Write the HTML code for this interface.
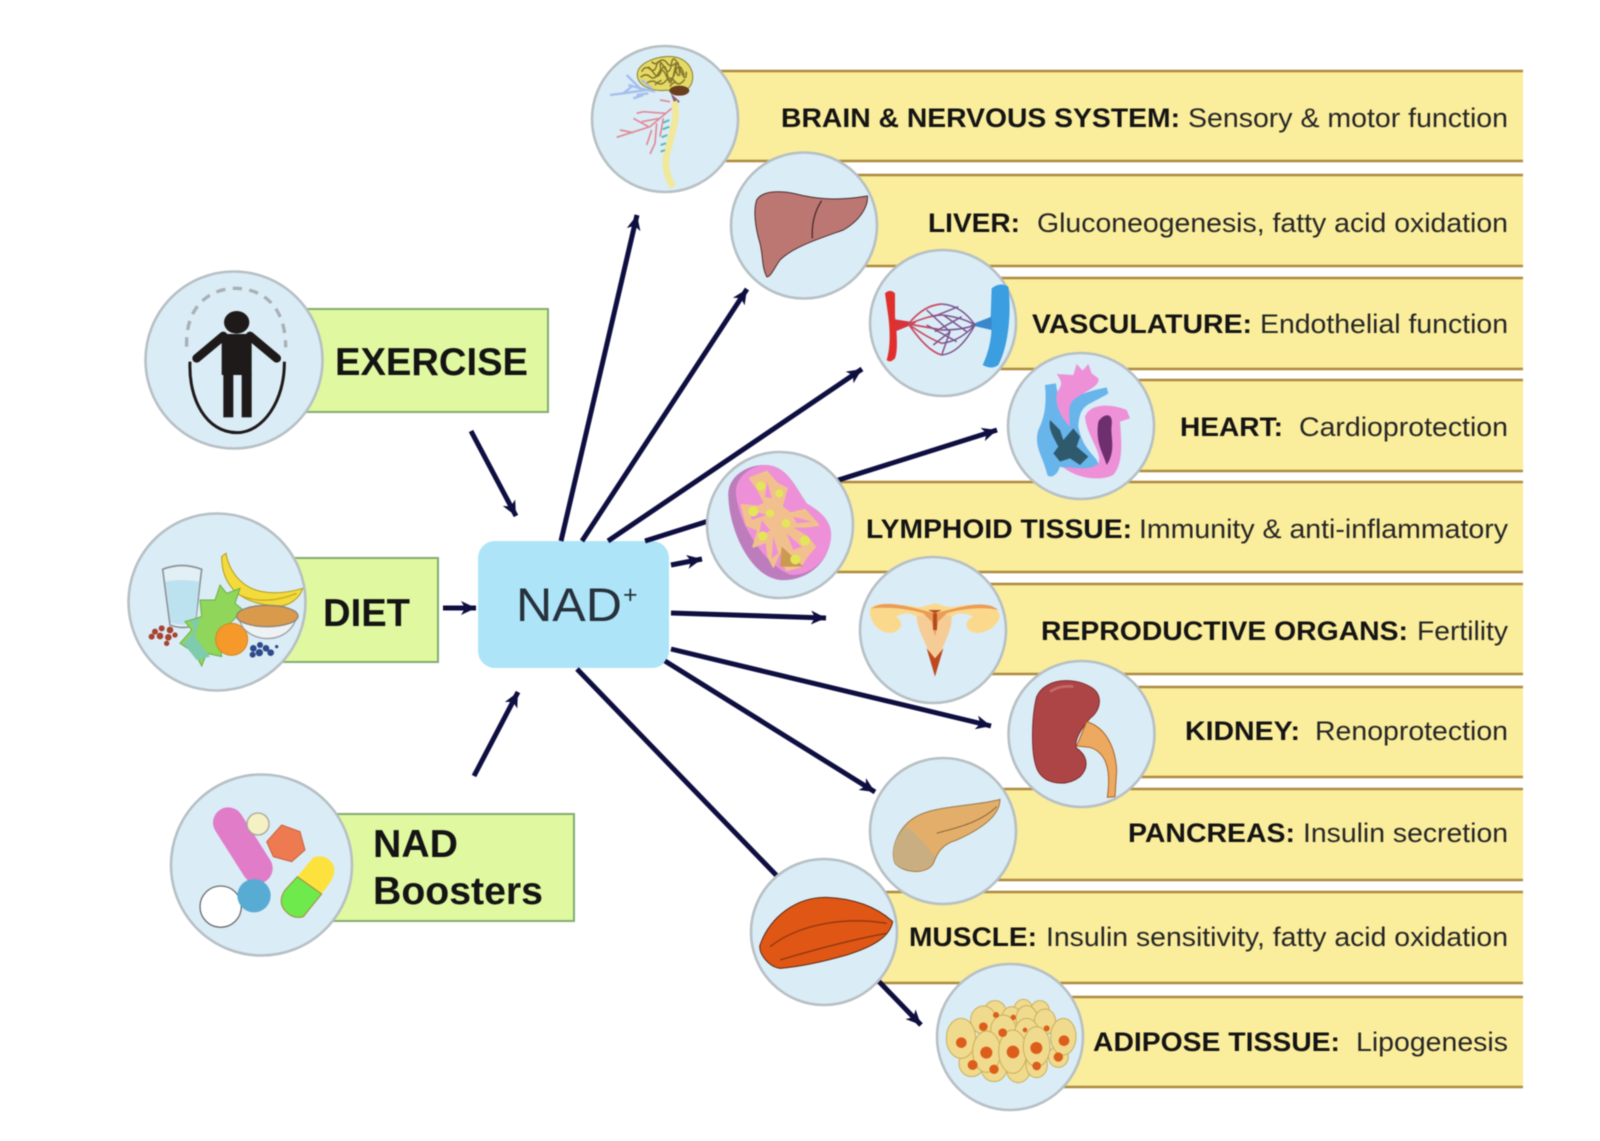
<!DOCTYPE html>
<html><head><meta charset="utf-8"><style>
html,body{margin:0;padding:0;background:#fff;width:1600px;height:1141px;overflow:hidden}
svg{display:block;filter:blur(.6px)}
text{font-family:"Liberation Sans",Arial,sans-serif;fill:#141414}
.b{font-weight:700;font-size:27px}.r{font-size:27px;fill:#262626}
.l{font-weight:700;font-size:39px}
.bar{fill:#faed9b}.bl{stroke:#ae8a3f;stroke-width:2.4}
.c{fill:#daecf6;stroke:#b7c0c4;stroke-width:2.6}
.g{fill:#e0f8a0;stroke:#82ad70;stroke-width:2}
.a{stroke:#0e0f40;stroke-width:5;fill:none}
.h{fill:#0e0f40}
</style></head><body>
<svg width="1600" height="1141" viewBox="0 0 1600 1141" xmlns="http://www.w3.org/2000/svg">
<rect width="1600" height="1141" fill="#fff"/>
<defs><marker id="m" markerUnits="userSpaceOnUse" markerWidth="18" markerHeight="16" refX="15" refY="8" orient="auto"><path class="h" d="M0,1 L15,8 L0,15 L4,8Z"/></marker></defs>

<!-- yellow bars -->
<g>
<rect class="bar" x="700" y="71" width="823" height="90"/><path class="bl" d="M700,71H1523M700,161H1523"/>
<rect class="bar" x="830" y="175" width="693" height="91"/><path class="bl" d="M830,175H1523M830,266H1523"/>
<rect class="bar" x="960" y="278" width="563" height="91"/><path class="bl" d="M960,278H1523M960,369H1523"/>
<rect class="bar" x="1100" y="380" width="423" height="91"/><path class="bl" d="M1100,380H1523M1100,471H1523"/>
<rect class="bar" x="800" y="482" width="723" height="90"/><path class="bl" d="M800,482H1523M800,572H1523"/>
<rect class="bar" x="950" y="584" width="573" height="90"/><path class="bl" d="M950,584H1523M950,674H1523"/>
<rect class="bar" x="1100" y="687" width="423" height="90"/><path class="bl" d="M1100,687H1523M1100,777H1523"/>
<rect class="bar" x="960" y="789" width="563" height="91"/><path class="bl" d="M960,789H1523M960,880H1523"/>
<rect class="bar" x="850" y="892" width="673" height="91"/><path class="bl" d="M850,892H1523M850,983H1523"/>
<rect class="bar" x="1040" y="997" width="483" height="90"/><path class="bl" d="M1040,997H1523M1040,1087H1523"/>
</g>

<!-- green boxes and NAD -->
<rect class="g" x="290" y="309" width="258" height="103"/>
<rect class="g" x="270" y="558" width="168" height="104"/>
<rect class="g" x="320" y="814" width="254" height="107"/>
<rect x="478" y="541" width="191" height="127" rx="17" fill="#aee4f8"/>

<!-- arrows -->
<line class="a" x1="471" y1="431" x2="516" y2="516" marker-end="url(#m)"/>
<line class="a" x1="443" y1="608" x2="476" y2="608" marker-end="url(#m)"/>
<line class="a" x1="474" y1="776" x2="518" y2="692" marker-end="url(#m)"/>
<line class="a" x1="561" y1="541" x2="637" y2="215" marker-end="url(#m)"/>
<line class="a" x1="582" y1="541" x2="747" y2="289" marker-end="url(#m)"/>
<line class="a" x1="608" y1="541" x2="862" y2="369" marker-end="url(#m)"/>
<line class="a" x1="645" y1="541" x2="997" y2="430" marker-end="url(#m)"/>
<line class="a" x1="671" y1="565" x2="702" y2="559" marker-end="url(#m)"/>
<line class="a" x1="671" y1="613" x2="826" y2="618" marker-end="url(#m)"/>
<line class="a" x1="671" y1="649" x2="991" y2="726" marker-end="url(#m)"/>
<line class="a" x1="665" y1="661" x2="875" y2="792" marker-end="url(#m)"/>
<line class="a" x1="577" y1="669" x2="921" y2="1025" marker-end="url(#m)"/>

<!-- circles -->
<circle class="c" cx="665" cy="119" r="73"/>
<circle class="c" cx="804" cy="225.5" r="73"/>
<circle class="c" cx="943" cy="323" r="73"/>
<circle class="c" cx="780" cy="525" r="73"/>
<circle class="c" cx="1081" cy="426" r="73"/>
<circle class="c" cx="933" cy="630" r="73"/>
<circle class="c" cx="1081.5" cy="734" r="73"/>
<circle class="c" cx="943" cy="831" r="73"/>
<circle class="c" cx="824" cy="932" r="73"/>
<circle class="c" cx="1010" cy="1037" r="73"/>
<circle class="c" cx="234" cy="360" r="88.5"/>
<circle class="c" cx="217" cy="602" r="88.5"/>
<circle class="c" cx="261.5" cy="865" r="90.5"/>

<!-- exercise + diet icons -->
<g transform="translate(120,260) scale(.33333)">
<path d="M200,260 C195,120 290,85 345,85 C420,85 497,130 497,262" fill="none" stroke="#a8b0b5" stroke-width="10" stroke-dasharray="28 22"/>
<ellipse cx="350" cy="187" rx="38" ry="34" fill="#1f1a1a"/>
<path d="M305,222H395V345H305Z" fill="#1f1a1a"/>
<path d="M310,228L230,295M390,228L470,295" stroke="#1f1a1a" stroke-width="26" stroke-linecap="round"/>
<rect x="310" y="340" width="30" height="132" fill="#1f1a1a"/><rect x="365" y="340" width="30" height="132" fill="#1f1a1a"/>
<path d="M210,305C205,420 260,517 350,518C430,518 495,420 493,305" fill="none" stroke="#1f1a1a" stroke-width="9"/>

<path d="M128,928Q185,905 245,928L225,1095Q190,1110 150,1095Z" fill="#e2f0f6" stroke="#8d9498" stroke-width="5"/>
<path d="M136,965Q185,955 238,965L226,1088Q190,1100 152,1088Z" fill="#bde2ef"/>
<path d="M305,890C305,960 340,1030 470,1038C510,1040 540,1012 548,985C500,1000 420,1010 370,970C345,950 325,920 318,880Z" fill="#f3db3b" stroke="#b29a20" stroke-width="3"/>
<path d="M350,1000C400,1030 470,1025 530,1000" fill="none" stroke="#c7ad22" stroke-width="4"/>
<path d="M300,975L320,1000L360,985L345,1030L370,1050L330,1090L345,1120L300,1150L305,1190L260,1180L245,1218L225,1180L180,1150L215,1110L195,1085L245,1070L240,1020L285,1020Z" fill="#8fd65a" stroke="#6cae4a" stroke-width="3"/>
<path d="M190,1150L225,1110L210,1085L240,1075L225,1130L270,1190L230,1200Z" fill="#7fcbae"/>
<circle cx="335" cy="1138" r="48" fill="#f59a2a" stroke="#d88420" stroke-width="3"/>
<path d="M360,1085C380,1145 490,1160 525,1085Z" fill="#eef2f4" stroke="#9aa2a6" stroke-width="4"/>
<ellipse cx="442" cy="1068" rx="92" ry="32" fill="#d99a4c" stroke="#8d8478" stroke-width="4"/>
<g fill="#2d4a8a"><circle cx="400" cy="1165" r="10"/><circle cx="418" cy="1178" r="11"/><circle cx="438" cy="1165" r="10"/><circle cx="420" cy="1155" r="9"/><circle cx="452" cy="1178" r="10"/><circle cx="398" cy="1184" r="9"/><circle cx="470" cy="1160" r="5"/></g>
<g fill="#a8432f"><circle cx="105" cy="1115" r="9"/><circle cx="125" cy="1105" r="9"/><circle cx="150" cy="1110" r="10"/><circle cx="95" cy="1130" r="9"/><circle cx="120" cy="1128" r="10"/><circle cx="145" cy="1132" r="10"/><circle cx="165" cy="1125" r="8"/><circle cx="140" cy="1150" r="8"/></g>
</g>

<!-- boosters icon -->
<g transform="translate(160,760) scale(.33333)">
<line x1="205" y1="188" x2="292" y2="325" stroke="#e07cc8" stroke-width="92" stroke-linecap="round"/>
<circle cx="294" cy="192" r="33" fill="#f5f1c4" stroke="#a6a89c" stroke-width="4"/>
<path d="M365,195L420,215L435,270L395,305L340,290L320,245Z" fill="#ee7a52" stroke="#c9623e" stroke-width="3"/>
<path d="M412,350L460,292Q505,280 522,320Q530,350 485,400Z" fill="#fde23e"/>
<path d="M412,350L485,402L430,470Q395,480 370,445Q355,420 375,390Z" fill="#6eea4c" stroke="#a58a3a" stroke-width="3"/>
<circle cx="182" cy="440" r="62" fill="#fff" stroke="#6c7072" stroke-width="4"/>
<circle cx="282" cy="407" r="50" fill="#58acd4"/>
</g>

<!-- brain, liver, vasculature -->
<g transform="translate(580,30) scale(.33333)">
<path d="M172,130C175,95 245,72 290,82C340,95 350,150 325,175C300,195 270,175 245,182C205,180 170,165 172,130Z" fill="#e6da66" stroke="#8a7d2c" stroke-width="3"/>
<path d="M185,125q10,-20 25,-8t20,-12t22,6t22,-8t25,12t20,10M182,142q15,-14 28,-2t25,-10t24,8t26,-10t28,8M200,160q15,-12 30,-2t28,-6t26,2t30,-6M215,95q10,12 22,0t24,4t26,0M205,110q10,10 20,24t20,-14t18,18t20,-14t16,14M240,100q5,20 -5,30M290,100q-8,20 5,38M225,165q8,-10 20,-14M270,170q5,-12 20,-14" fill="none" stroke="#84762a" stroke-width="4.5"/>
<ellipse cx="298" cy="182" rx="30" ry="15" fill="#6b3e20"/>
<path d="M272,190L300,215L285,225Z" fill="#8f5f70"/>
<path d="M282,215C300,260 265,340 258,385C255,420 265,450 280,470" fill="none" stroke="#f1e89a" stroke-width="20"/>
<path d="M268,270L250,278M268,290L248,298M262,315L245,322M258,340L242,345M255,360L242,365" stroke="#5cb8b8" stroke-width="6"/>
<path d="M225,185L180,175L140,135M180,175L145,165M200,180L130,190L90,195M130,190L155,170M190,195L160,205M215,175L185,150M205,190L170,195" fill="none" stroke="#a5bfee" stroke-width="7"/>
<path d="M275,235L210,290L110,322M255,250L190,245L170,250M240,265L185,275M230,280L225,340L210,372M160,308L120,300M270,215L240,210M205,290L160,265M250,265L240,320M215,300L200,345" fill="none" stroke="#e08a96" stroke-width="5"/>

<path d="M530,510C545,485 590,480 640,490C700,505 760,515 862,498C865,520 850,565 790,600C720,625 640,650 600,690C585,710 570,745 560,740C545,710 550,680 540,640C525,590 520,540 530,510Z" fill="#bd7772" stroke="#4a2d2d" stroke-width="3"/>
<path d="M725,512C700,550 695,590 697,625" fill="none" stroke="#4a2d2d" stroke-width="4"/>

<path d="M915,790Q930,775 945,790L945,860C950,900 955,960 945,985Q930,1000 920,990C932,950 930,900 925,860Z" fill="#e0302e"/>
<path d="M1235,775Q1260,755 1285,770C1295,850 1285,950 1255,1005Q1235,1020 1208,1005C1230,960 1240,900 1232,860Z" fill="#3a9ee0"/>
<path d="M945,868L1010,878L945,905Z" fill="#d8323a"/>
<path d="M1170,885L1235,860L1235,900Z" fill="#3a88cc"/>
<g fill="none" stroke="#c84a60" stroke-width="5">
<path d="M985,882C1020,840 1050,825 1085,822M985,882C1030,865 1060,855 1085,855M985,882C1030,890 1060,895 1085,900M985,882C1020,930 1050,965 1085,975M985,882C1030,915 1060,930 1085,940"/>
</g>
<g fill="none" stroke="#7a5590" stroke-width="4.5">
<path d="M1085,822C1130,825 1160,850 1185,885M1085,855C1130,860 1160,870 1185,885M1085,900C1130,900 1160,895 1185,885M1085,975C1130,970 1160,930 1185,885M1085,940C1130,935 1160,910 1185,885"/>
<path d="M1040,840L1110,905L1085,975M1060,860L1135,830M1040,885L1130,935M1065,905L1145,860M1090,855L1160,905M1060,945L1110,905"/>
</g>
</g>

<!-- lymph, heart, repro -->
<g transform="translate(690,350) scale(.33333)">
<path d="M115,440C110,385 165,342 230,345C290,350 310,400 350,460C400,490 430,520 422,570C410,650 340,695 270,690C180,680 118,540 115,440Z" fill="#bd7dbd"/>
<path d="M138,430C135,385 180,345 230,345C290,350 310,400 350,460C400,490 430,520 422,570C412,640 350,680 300,674C220,640 145,520 138,430Z" fill="#ee90d8"/>
<g fill="#f0c38a" stroke="#f0c38a" stroke-width="6" stroke-linejoin="round">
<path d="M180,385L230,365L260,400L290,415L275,470L300,490L345,480L385,525L345,530L300,530L350,560L375,590L350,620L330,650L290,660L270,600L250,650L235,620L230,575L190,590L205,540L170,525L155,465L205,470L225,460L205,420Z" fill-opacity=".95"/>
</g>
<g fill="#ee90d8"><path d="M232,395L245,445L225,440Z"/><path d="M180,480L230,495L185,510Z"/><path d="M310,500L365,515L320,520Z"/><path d="M290,550L335,590L310,600Z"/><path d="M250,560L265,610L245,625Z"/><path d="M215,510L240,540L205,570Z"/></g>
<path d="M275,590L340,650L270,650Z" fill="#c99a50"/>
<g fill="#e4e65a"><circle cx="212" cy="408" r="14"/><circle cx="268" cy="430" r="12"/><circle cx="190" cy="484" r="15"/><circle cx="240" cy="490" r="12"/><circle cx="288" cy="520" r="13"/><circle cx="218" cy="558" r="14"/><circle cx="345" cy="572" r="15"/><circle cx="316" cy="628" r="15"/></g>

<path d="M1065,105L1098,100C1105,180 1150,130 1250,112L1255,130C1190,170 1170,160 1165,230C1180,310 1230,320 1225,350C1200,375 1130,355 1110,350C1100,380 1080,385 1072,375C1060,320 1030,290 1045,240C1065,200 1070,160 1065,105Z" fill="#68b5ec"/>
<path d="M1100,72L1150,75L1160,42L1178,62L1195,42L1205,70L1225,85C1232,110 1180,125 1150,150C1130,170 1140,210 1140,230C1115,205 1095,170 1100,130C1115,105 1120,100 1100,72Z" fill="#ee90d8"/>
<path d="M1185,200C1200,160 1260,160 1310,180L1320,205L1290,215C1295,280 1300,340 1270,375C1230,395 1160,385 1120,352C1150,350 1200,365 1225,340C1240,310 1190,260 1185,200Z" fill="#ee90d8"/>
<path d="M1225,215C1240,190 1270,185 1265,225C1260,260 1280,300 1250,345C1240,310 1215,280 1225,215Z" fill="#6e2f6f"/>
<path d="M1080,210L1110,240L1120,270L1150,235L1170,260L1160,290L1195,320L1170,345L1140,325L1110,335L1090,310L1105,290C1090,260 1075,240 1080,210Z" fill="#2f5a6e"/>

<path d="M540,775C560,750 640,765 690,772L735,760L780,772C830,765 900,750 928,790C935,820 890,855 850,848C820,835 825,810 850,800C820,785 800,790 785,800C785,860 750,880 735,980C720,880 685,860 680,800C665,790 645,785 618,800C640,815 640,835 610,848C570,855 535,815 540,775Z" fill="#fbd98c"/>
<path d="M680,800C685,860 720,880 735,980C750,880 785,860 785,800C760,790 710,790 680,800Z" fill="#f6cc96"/>
<path d="M545,775C580,750 640,765 735,790C830,765 890,750 925,780C880,770 820,775 770,790L745,815L735,860L725,815L700,790C650,775 590,770 545,775Z" fill="#eb9c56"/>
<path d="M735,790L715,780L755,780Z" fill="#b54a1f"/><path d="M735,790V840" stroke="#b54a1f" stroke-width="12"/>
<path d="M710,895L735,925L760,895L735,980Z" fill="#bd4a1f"/>
</g>

<!-- kidney, pancreas, muscle, adipose -->
<g transform="translate(740,660) scale(.33333)">
<path d="M890,110C915,55 1000,50 1050,80C1090,100 1085,150 1050,175C1025,205 1000,240 1010,265C1040,285 1050,320 1020,350C980,380 920,375 895,335C870,290 875,170 890,110Z" fill="#ad4546" stroke="#7d2e2e" stroke-width="3"/>
<path d="M930,95Q960,75 1000,80" fill="none" stroke="#c76a6a" stroke-width="8"/>
<path d="M1040,185C1090,200 1125,250 1130,330L1125,410L1102,412C1112,340 1105,280 1050,262L1010,258Z" fill="#eda95f" stroke="#a8662b" stroke-width="3"/>

<path d="M780,418C780,460 740,500 650,540C600,555 590,585 580,610C560,645 490,640 465,610C450,570 470,510 520,475C580,435 700,440 780,418Z" fill="#e3ae6a" stroke="#9a7b4a" stroke-width="3"/>
<path d="M465,610C450,570 470,520 500,500C540,530 560,560 585,590C575,640 490,640 465,610Z" fill="#c9ae82"/>
<path d="M770,440C720,490 640,505 590,520" fill="none" stroke="#8a6a3a" stroke-width="3"/>

<path d="M60,855C90,770 170,710 260,712C340,715 410,740 458,785C450,830 400,860 320,885C250,905 180,920 120,925C85,920 55,880 60,855Z" fill="#e05614" stroke="#5a2a14" stroke-width="3"/>
<path d="M90,860C180,790 320,770 440,790M120,900C220,870 330,840 440,820" fill="none" stroke="#90380f" stroke-width="4"/>

<g stroke="#c9b05a" stroke-width="3" fill="#f0da8e">
<ellipse cx="850" cy="1050" rx="28" ry="32"/><ellipse cx="765" cy="1052" rx="32" ry="30"/><ellipse cx="900" cy="1052" rx="28" ry="30"/>
<ellipse cx="730" cy="1080" rx="38" ry="42"/><ellipse cx="815" cy="1075" rx="30" ry="35"/><ellipse cx="860" cy="1075" rx="32" ry="38"/><ellipse cx="915" cy="1085" rx="32" ry="38"/>
<ellipse cx="790" cy="1110" rx="38" ry="45"/><ellipse cx="860" cy="1115" rx="35" ry="40"/>
<ellipse cx="695" cy="1210" rx="38" ry="40"/><ellipse cx="762" cy="1225" rx="38" ry="40"/><ellipse cx="835" cy="1230" rx="35" ry="38"/><ellipse cx="890" cy="1215" rx="32" ry="38"/><ellipse cx="955" cy="1190" rx="30" ry="32"/>
<ellipse cx="663" cy="1135" rx="44" ry="60"/><ellipse cx="740" cy="1175" rx="42" ry="62"/><ellipse cx="818" cy="1175" rx="42" ry="65"/><ellipse cx="890" cy="1160" rx="40" ry="60"/><ellipse cx="970" cy="1130" rx="38" ry="55"/>
</g>
<g fill="#dc5e1a"><circle cx="664" cy="1148" r="16"/><circle cx="739" cy="1178" r="18"/><circle cx="819" cy="1176" r="19"/><circle cx="889" cy="1164" r="18"/><circle cx="972" cy="1142" r="16"/><circle cx="955" cy="1191" r="14"/><circle cx="698" cy="1215" r="15"/><circle cx="762" cy="1228" r="14"/><circle cx="890" cy="1218" r="13"/><circle cx="730" cy="1100" r="13"/><circle cx="788" cy="1118" r="13"/><circle cx="768" cy="1065" r="9"/><circle cx="820" cy="1072" r="8"/><circle cx="920" cy="1105" r="9"/><circle cx="855" cy="1110" r="7"/></g>
</g>

<!-- labels -->
<text class="l" x="335" y="375" textLength="193" lengthAdjust="spacingAndGlyphs">EXERCISE</text>
<text class="l" x="323" y="626" textLength="87" lengthAdjust="spacingAndGlyphs">DIET</text>
<text class="l" x="373" y="857" textLength="85" lengthAdjust="spacingAndGlyphs">NAD</text>
<text class="l" x="373" y="904" textLength="170" lengthAdjust="spacingAndGlyphs">Boosters</text>
<text x="516" y="621" font-size="47" textLength="106" lengthAdjust="spacingAndGlyphs" style="fill:#26313c">NAD</text>
<text x="623" y="603" font-size="25" style="fill:#26313c">+</text>

<text class="b" x="781" y="127" textLength="399" lengthAdjust="spacingAndGlyphs">BRAIN &amp; NERVOUS SYSTEM:</text>
<text class="r" x="1188" y="127" textLength="320" lengthAdjust="spacingAndGlyphs">Sensory &amp; motor function</text>
<text class="b" x="928" y="232" textLength="92" lengthAdjust="spacingAndGlyphs">LIVER:</text>
<text class="r" x="1037" y="232" textLength="471" lengthAdjust="spacingAndGlyphs">Gluconeogenesis, fatty acid oxidation</text>
<text class="b" x="1032" y="333" textLength="220" lengthAdjust="spacingAndGlyphs">VASCULATURE:</text>
<text class="r" x="1260" y="333" textLength="248" lengthAdjust="spacingAndGlyphs">Endothelial function</text>
<text class="b" x="1180" y="436" textLength="103" lengthAdjust="spacingAndGlyphs">HEART:</text>
<text class="r" x="1299" y="436" textLength="209" lengthAdjust="spacingAndGlyphs">Cardioprotection</text>
<text class="b" x="866" y="538" textLength="266" lengthAdjust="spacingAndGlyphs">LYMPHOID TISSUE:</text>
<text class="r" x="1139" y="538" textLength="369" lengthAdjust="spacingAndGlyphs">Immunity &amp; anti-inflammatory</text>
<text class="b" x="1041" y="640" textLength="367" lengthAdjust="spacingAndGlyphs">REPRODUCTIVE ORGANS:</text>
<text class="r" x="1417" y="640" textLength="91" lengthAdjust="spacingAndGlyphs">Fertility</text>
<text class="b" x="1185" y="740" textLength="115" lengthAdjust="spacingAndGlyphs">KIDNEY:</text>
<text class="r" x="1315" y="740" textLength="193" lengthAdjust="spacingAndGlyphs">Renoprotection</text>
<text class="b" x="1128" y="842" textLength="167" lengthAdjust="spacingAndGlyphs">PANCREAS:</text>
<text class="r" x="1303" y="842" textLength="205" lengthAdjust="spacingAndGlyphs">Insulin secretion</text>
<text class="b" x="909" y="946" textLength="128" lengthAdjust="spacingAndGlyphs">MUSCLE:</text>
<text class="r" x="1046" y="946" textLength="462" lengthAdjust="spacingAndGlyphs">Insulin sensitivity, fatty acid oxidation</text>
<text class="b" x="1093" y="1051" textLength="247" lengthAdjust="spacingAndGlyphs">ADIPOSE TISSUE:</text>
<text class="r" x="1356" y="1051" textLength="152" lengthAdjust="spacingAndGlyphs">Lipogenesis</text>
</svg>
</body></html>
